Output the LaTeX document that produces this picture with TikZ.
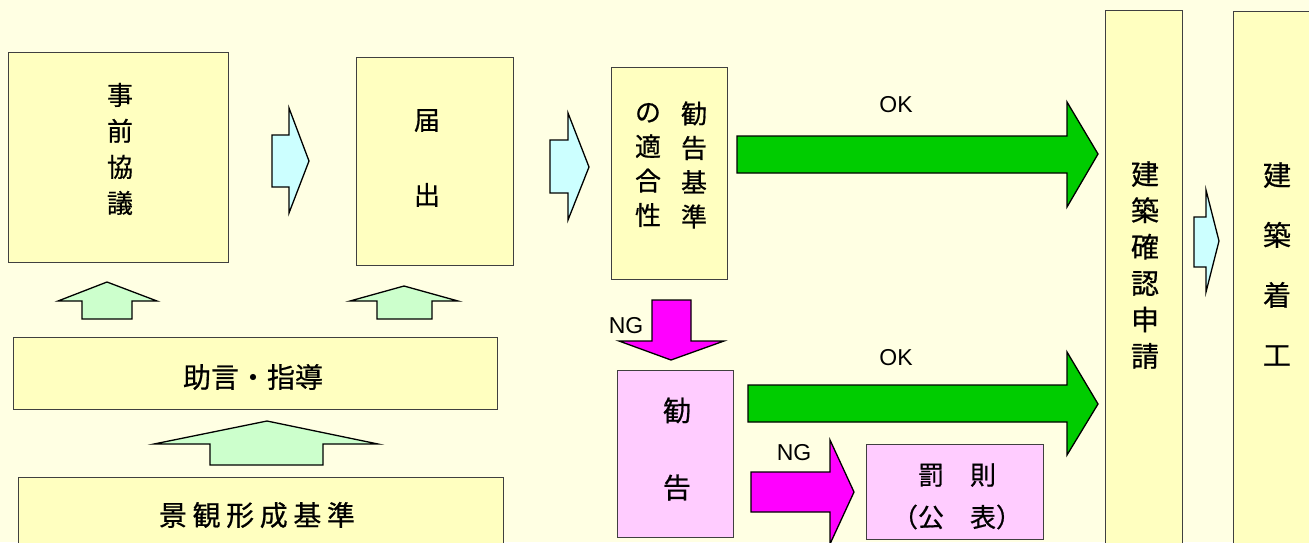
\documentclass[tikz,border=0pt]{standalone}
\usepackage{fontspec}
\setmainfont{Liberation Sans}
\newfontfamily\jp[FakeBold=0.6]{Noto Sans CJK JP}
\newfontfamily\jpwide[LetterSpace=20,FakeBold=0.6]{Noto Sans CJK JP}
\definecolor{bgc}{HTML}{FFFFE3}
\definecolor{boxy}{HTML}{FFFFC0}
\definecolor{boxp}{HTML}{FFCCFF}
\definecolor{boxline}{HTML}{404040}
\definecolor{gr}{HTML}{00CC00}
\definecolor{mg}{HTML}{FF00FF}
\definecolor{lb}{HTML}{CCFFFF}
\definecolor{lg}{HTML}{CCFFCC}
\begin{document}
\begin{tikzpicture}[x=1pt,y=-1pt,
  box/.style={draw=boxline, line width=0.8pt, fill=boxy, inner sep=0pt, outer sep=0pt},
  pbox/.style={box, fill=boxp},
  blk/.style={draw=black, line width=1.3pt, line join=miter},
  jt/.style={inner sep=0pt, align=center, font=\jp\fontsize{#1}{#1}\selectfont},
  jtv/.style 2 args={inner sep=0pt, align=center, font=\jp\fontsize{#1}{#2}\selectfont},
  lab/.style={inner sep=0pt, font=\fontsize{23}{23}\selectfont}]
\useasboundingbox (0,0) rectangle (1309,542);
\fill[bgc] (0,0) rectangle (1309,542);
\clip (0,0) rectangle (1309,542);

% boxes
\node[box, minimum width=220pt, minimum height=210pt] (jizen) at (118,157) {};
\node[box, minimum width=157pt, minimum height=208pt] (todoke) at (434.5,161) {};
\node[box, minimum width=116pt, minimum height=212pt] (tekigo) at (669,173) {};
\node[pbox, minimum width=116pt, minimum height=167pt] (kankoku) at (675,453.5) {};
\node[pbox, minimum width=177pt, minimum height=95pt] (bassoku) at (954.5,491.5) {};
\node[box, minimum width=77pt, minimum height=550pt] (kakunin) at (1143.5,285) {};
\node[box, minimum width=97pt, minimum height=549pt] (chakko) at (1281.5,285.5) {};
\node[box, minimum width=484pt, minimum height=72pt] (jogen) at (255,373) {};
\node[box, minimum width=485pt, minimum height=83pt] (keikan) at (260.5,518.5) {};

% texts
\node[jtv={26}{36}] (tjizen) at (120,149) {事\\前\\協\\議};
\node[jtv={26}{75}] (ttodoke) at (427,158) {届\\出};
\node[jtv={26}{34.4}] (tkijun) at (694,165) {勧\\告\\基\\準};
\node[jtv={26}{34.4}] (ttekigo) at (648,165) {の\\適\\合\\性};
\node[jtv={28}{77}] (tkankoku) at (677,449) {勧\\告};
\node[jt=26] (tbas1) at (957,475) {罰　則};
\node[jt=26] (tbas2) at (957,517) {（公　表）};
\node[jtv={28}{36.4}] (tkakunin) at (1145,265) {建\\築\\確\\認\\申\\請};
\node[jtv={28}{60}] (tchakko) at (1277,264) {建\\築\\着\\工};
\node[jt=28] (tjogen) at (253,377) {助言・指導};
\node[inner sep=0pt, font=\jpwide\fontsize{28}{28}\selectfont] (tkeikan) at (257,515) {景観形成基準};

% blue arrows
\filldraw[blk, fill=lb] (272,135) -- (289,135) -- (289,108) -- (309,161) -- (289,213) -- (289,187) -- (272,187) -- cycle;
\filldraw[blk, fill=lb] (550,140) -- (568,140) -- (568,113) -- (589,167) -- (568,220) -- (568,193) -- (550,193) -- cycle;
\filldraw[blk, fill=lb] (1194,217) -- (1206,217) -- (1206,190) -- (1219,241) -- (1206,292) -- (1206,267) -- (1194,267) -- cycle;

% green arrows
\filldraw[blk, fill=gr] (737,136) -- (1067,136) -- (1067,102) -- (1098,154) -- (1067,207) -- (1067,173) -- (737,173) -- cycle;
\filldraw[blk, fill=gr] (748,385) -- (1067,385) -- (1067,352) -- (1098,404) -- (1067,455) -- (1067,422) -- (748,422) -- cycle;
\node[lab] (ok1) at (896,105) {OK};
\node[lab] (ok2) at (896,358) {OK};

% magenta arrows
\filldraw[blk, fill=mg] (652,300) -- (691,300) -- (691,341) -- (724,341) -- (671,360) -- (619,341) -- (652,341) -- cycle;
\filldraw[blk, fill=mg] (751,472) -- (830,472) -- (830,440) -- (854,492) -- (830,544) -- (830,512) -- (751,512) -- cycle;
\node[lab] (ng1) at (626,326) {NG};
\node[lab] (ng2) at (794,453) {NG};

% light green up arrows
\filldraw[blk, fill=lg] (82,319) -- (82,301) -- (58,301) -- (107,282) -- (157,301) -- (132,301) -- (132,319) -- cycle;
\filldraw[blk, fill=lg] (377,319) -- (377,301) -- (350,301) -- (404,286) -- (458,301) -- (432,301) -- (432,319) -- cycle;
\filldraw[blk, fill=lg] (210,465) -- (210,444) -- (154,444) -- (267,421) -- (378,444) -- (323,444) -- (323,465) -- cycle;
\end{tikzpicture}
\end{document}
